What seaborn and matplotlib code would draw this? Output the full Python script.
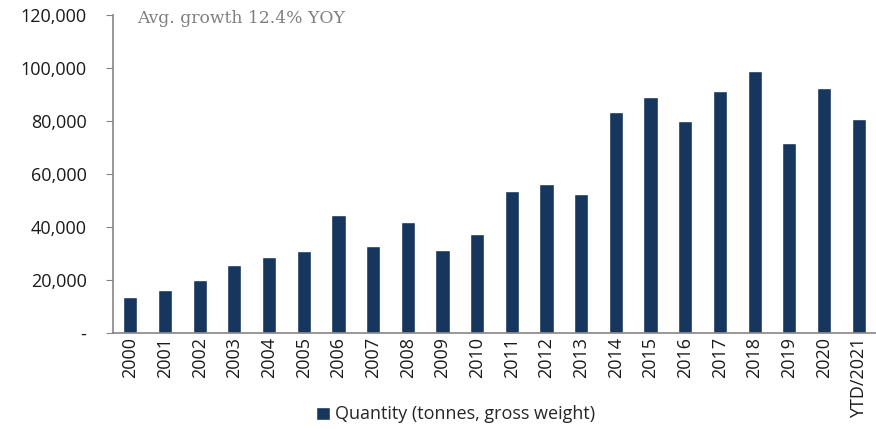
import numpy as np
import pandas as pd
import matplotlib
matplotlib.use("Agg")
import matplotlib.pyplot as plt
import seaborn as sns

years = ["2000", "2001", "2002", "2003", "2004", "2005", "2006", "2007",
         "2008", "2009", "2010", "2011", "2012", "2013", "2014", "2015",
         "2016", "2017", "2018", "2019", "2020", "YTD/2021"]
quantity = [13600, 16300, 20000, 25800, 28800, 31000, 44600, 32900,
            41900, 31400, 37200, 53700, 56300, 52300, 83500, 89000,
            79900, 91200, 98900, 71700, 92600, 80900]
y_ticks = [0, 20000, 40000, 60000, 80000, 100000, 120000]
y_labels = ["-", "20,000", "40,000", "60,000", "80,000", "100,000", "120,000"]

df = pd.DataFrame({"Year": years, "Quantity": quantity})

sns.set_style("white")
plt.rcParams["font.family"] = ["Open Sans", "DejaVu Sans"]

fig = plt.figure(figsize=(8.76, 4.29), dpi=100)
ax = fig.add_axes([0.129, 0.224, 0.871, 0.741])

sns.barplot(data=df, x="Year", y="Quantity", color="#17365D",
            width=0.41, saturation=1, ax=ax,
            label="Quantity (tonnes, gross weight)")

ax.set_ylim(0, 120000)
ax.set_xlim(-0.5, len(years) - 0.5)
ax.set_yticks(y_ticks)
ax.set_yticklabels(y_labels, fontsize=13, color="#1a1a1a")
ax.set_xticks(range(len(years)))
ax.set_xticklabels(years, rotation=90, fontsize=13, color="#1a1a1a")
ax.set_xlabel("")
ax.set_ylabel("")

# ticks between categories on x, outward ticks on y
ax.set_xticks(np.arange(-0.5, len(years), 1), minor=True)
ax.tick_params(axis="x", which="major", length=0, pad=3)
ax.tick_params(axis="x", which="minor", length=5, color="#868686", direction="out")
ax.tick_params(axis="y", length=5, color="#868686", direction="out", pad=14, left=True)

for s in ["top", "right"]:
    ax.spines[s].set_visible(False)
for s in ["left", "bottom"]:
    ax.spines[s].set_color("#868686")
    ax.spines[s].set_linewidth(1.2)

ax.text(0.032, 1.015, "Avg. growth 12.4% YOY", transform=ax.transAxes,
        fontsize=12.3, color="#7f7f7f", family="DejaVu Serif", va="top")

if ax.legend_:
    ax.legend_.remove()
handles, labels = ax.get_legend_handles_labels()
fig.legend(handles, labels, loc="lower center", bbox_to_anchor=(0.52, -0.025),
           frameon=False, fontsize=13, handlelength=0.75, handleheight=0.75,
           handletextpad=0.3)

plt.savefig("out.png", dpi=100)
